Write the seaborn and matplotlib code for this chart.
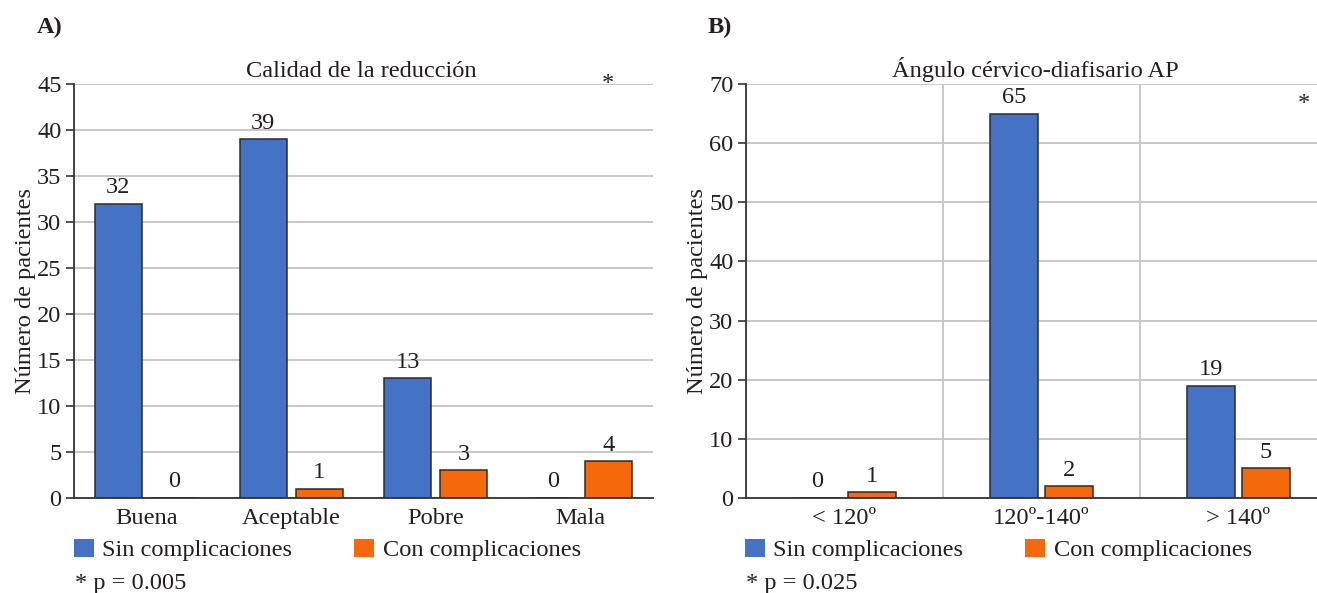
import matplotlib
matplotlib.use("Agg")
import matplotlib.pyplot as plt
from matplotlib.patches import Patch
import seaborn as sns
import pandas as pd

# ---- data ----
calidad_cats = ["Buena", "Aceptable", "Pobre", "Mala"]
calidad_sin = [32, 39, 13, 0]
calidad_con = [0, 1, 3, 4]

angulo_cats = ["< 120º", "120º-140º", "> 140º"]
angulo_sin = [0, 65, 19]
angulo_con = [1, 2, 5]

series_names = ["Sin complicaciones", "Con complicaciones"]
colors = ["#4472C4", "#F6690B"]

sns.set_theme(style="white")
plt.rcParams["font.family"] = ["Liberation Serif", "DejaVu Serif"]
plt.rcParams["text.color"] = "#231f20"
plt.rcParams["axes.labelcolor"] = "#231f20"
plt.rcParams["xtick.color"] = "#231f20"
plt.rcParams["ytick.color"] = "#231f20"

FS = 17.6

fig = plt.figure(figsize=(13.17, 5.93), dpi=100)
axA = fig.add_axes([74 / 1317, 1 - 498 / 593, 579 / 1317, 414 / 593])
axB = fig.add_axes([746 / 1317, 1 - 498 / 593, 591 / 1317, 414 / 593])


def long_frame(cats, sin, con):
    return pd.DataFrame({
        "cat": cats * 2,
        "serie": [series_names[0]] * len(cats) + [series_names[1]] * len(cats),
        "n": list(sin) + list(con),
    })


def draw_panel(ax, cats, sin, con, width, gap, ymax, ystep, title, title_x,
               vgrid=False):
    df = long_frame(cats, sin, con)
    sns.barplot(data=df, x="cat", y="n", hue="serie", order=cats,
                hue_order=series_names, palette=colors, saturation=1,
                width=width, gap=gap, edgecolor="#2b2b2b", linewidth=1.1,
                errorbar=None, legend=False, ax=ax, zorder=3)
    for cont in ax.containers:
        ax.bar_label(cont, fmt="%d", padding=4, fontsize=FS, color="#231f20")
    ax.set_xlim(-0.5, len(cats) - 0.5)
    ax.set_ylim(0, ymax)
    ax.set_yticks(range(0, ymax + 1, ystep))
    ax.grid(axis="y", color="#c8c8c8", linewidth=1.4, zorder=0)
    if vgrid:
        for b in range(1, len(cats)):
            ax.axvline(b - 0.5, color="#c8c8c8", linewidth=1.4, zorder=0)
    ax.set_axisbelow(True)
    for s in ["top", "right"]:
        ax.spines[s].set_visible(False)
    for s in ["left", "bottom"]:
        ax.spines[s].set_color("#333333")
        ax.spines[s].set_linewidth(1.3)
        ax.spines[s].set_zorder(4)
    ax.tick_params(axis="y", length=6, width=1.2, color="#333333",
                   labelsize=FS, pad=3, direction="out", left=True)
    ax.tick_params(axis="x", length=0, labelsize=FS, pad=7)
    ax.set_xlabel("")
    ax.set_ylabel("Número de pacientes", fontsize=FS, labelpad=1)
    ax.set_title(title, fontsize=FS, pad=5, color="#231f20")
    ax.title.set_x(title_x)


draw_panel(axA, calidad_cats, calidad_sin, calidad_con, 0.772, 0.16, 45, 5,
           "Calidad de la reducción", 0.4965)
draw_panel(axB, angulo_cats, angulo_sin, angulo_con, 0.558, 0.143, 70, 10,
           "Ángulo cérvico-diafisario AP", 0.49, vgrid=True)

# significance markers
axA.text(3.19, 44.5, "*", ha="center", va="baseline", fontsize=FS)
axB.text(2.33, 65.8, "*", ha="center", va="baseline", fontsize=FS)

# panel letters
fig.text(37 / 1317, 1 - 27 / 593, "A)", fontsize=FS, fontweight="bold",
         va="center", ha="left")
fig.text(708 / 1317, 1 - 27 / 593, "B)", fontsize=FS, fontweight="bold",
         va="center", ha="left")

# legends and p-values
handles = [Patch(facecolor=c, edgecolor="none") for c in colors]
for ax, x0, ptxt in [(axA, 74, "* p = 0.005"), (axB, 745, "* p = 0.025")]:
    fig.legend(handles, series_names, loc="center left",
               bbox_to_anchor=(x0 / 1317, 1 - 550 / 593), ncol=2,
               frameon=False, fontsize=FS, handlelength=0.8,
               handleheight=0.8, handletextpad=0.35, columnspacing=2.55,
               borderpad=0, borderaxespad=0)
    fig.text((x0 + 1) / 1317, 1 - 583 / 593, ptxt, fontsize=FS,
             va="center", ha="left")

fig.savefig("out.png", dpi=100)
